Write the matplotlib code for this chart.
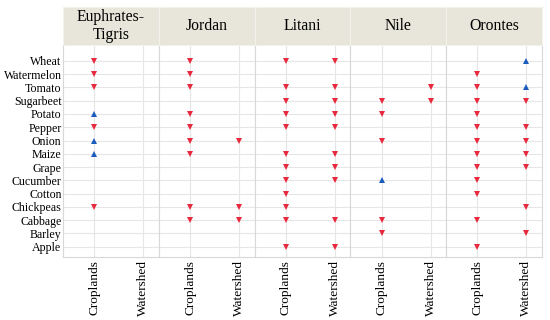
import matplotlib.pyplot as plt

plt.rcParams['font.family'] = 'serif'
plt.rcParams['font.serif'] = ['Liberation Serif', 'DejaVu Serif']

crops = ['Wheat', 'Watermelon', 'Tomato', 'Sugarbeet', 'Potato', 'Pepper', 'Onion',
         'Maize', 'Grape', 'Cucumber', 'Cotton', 'Chickpeas', 'Cabbage', 'Barley', 'Apple']
basins = ['Euphrates-\nTigris', 'Jordan', 'Litani', 'Nile', 'Orontes']
scales = ['Croplands', 'Watershed']

# crops with a decrease (red, down) and increase (blue, up), per basin: [croplands, watershed]
euphrates_down = [['Wheat', 'Watermelon', 'Tomato', 'Pepper', 'Chickpeas'], []]
euphrates_up = [['Potato', 'Onion', 'Maize'], []]
jordan_down = [['Wheat', 'Watermelon', 'Tomato', 'Potato', 'Pepper', 'Onion', 'Maize',
                'Chickpeas', 'Cabbage'],
               ['Onion', 'Chickpeas', 'Cabbage']]
jordan_up = [[], []]
litani_down = [['Wheat', 'Tomato', 'Sugarbeet', 'Potato', 'Pepper', 'Maize', 'Grape',
                'Cucumber', 'Cotton', 'Chickpeas', 'Cabbage', 'Apple'],
               ['Wheat', 'Tomato', 'Sugarbeet', 'Potato', 'Pepper', 'Maize', 'Grape',
                'Cucumber', 'Cabbage', 'Apple']]
litani_up = [[], []]
nile_down = [['Sugarbeet', 'Potato', 'Onion', 'Cabbage', 'Barley'],
             ['Tomato', 'Sugarbeet']]
nile_up = [['Cucumber'], []]
orontes_down = [['Watermelon', 'Tomato', 'Sugarbeet', 'Potato', 'Pepper', 'Onion', 'Maize',
                 'Grape', 'Cucumber', 'Cotton', 'Cabbage', 'Apple'],
                ['Sugarbeet', 'Pepper', 'Onion', 'Maize', 'Grape', 'Chickpeas', 'Barley']]
orontes_up = [[], ['Wheat', 'Tomato']]

downs = [euphrates_down, jordan_down, litani_down, nile_down, orontes_down]
ups = [euphrates_up, jordan_up, litani_up, nile_up, orontes_up]

W, H = 550, 320
fig = plt.figure(figsize=(5.5, 3.2), dpi=100)

left, right = 63, 542
top, bottom = 45, 257
strip_top = 7
pw = (right - left) / len(basins)
n = len(crops)
ypos = {c: n - 1 - i for i, c in enumerate(crops)}

for k, basin in enumerate(basins):
    x0 = left + k * pw
    ax = fig.add_axes([x0 / W, 1 - bottom / H, pw / W, (bottom - top) / H])
    st = fig.add_axes([x0 / W, 1 - top / H, pw / W, (top - strip_top) / H])

    for j in range(2):
        xs = [j] * len(downs[k][j])
        ys = [ypos[c] for c in downs[k][j]]
        ax.plot(xs, ys, 'v', color='#E8283C', markersize=4.5, markeredgewidth=0)
        xs = [j] * len(ups[k][j])
        ys = [ypos[c] for c in ups[k][j]]
        ax.plot(xs, ys, '^', color='#1C5CBE', markersize=4.5, markeredgewidth=0)

    ax.set_xlim(-0.64, 1.32)
    ax.set_ylim(-0.78, n - 1 + 1.2)
    ax.set_xticks([0, 1])
    ax.set_xticklabels(scales, rotation=90, fontsize=9.6)
    ax.set_yticks(range(n))
    if k == 0:
        ax.set_yticklabels(crops[::-1], fontsize=8.6)
    else:
        ax.set_yticklabels([])
    ax.tick_params(length=0, pad=2)
    ax.tick_params(axis='y', pad=1)
    ax.grid(color='#E6E6E6', linewidth=0.8)
    ax.set_axisbelow(True)
    for s in ax.spines.values():
        s.set_color('#D8D8D8')
        s.set_linewidth(0.8)
    ax.spines['top'].set_visible(False)

    st.set_facecolor('#E8E6DA')
    st.set_xticks([])
    st.set_yticks([])
    for s in st.spines.values():
        s.set_color('#F3F2EC')
        s.set_linewidth(0.8)
    st.text(0.5, 0.5, basin, ha='center', va='center', fontsize=11.3,
            linespacing=1.15, transform=st.transAxes)

fig.savefig('out.png', dpi=100)
